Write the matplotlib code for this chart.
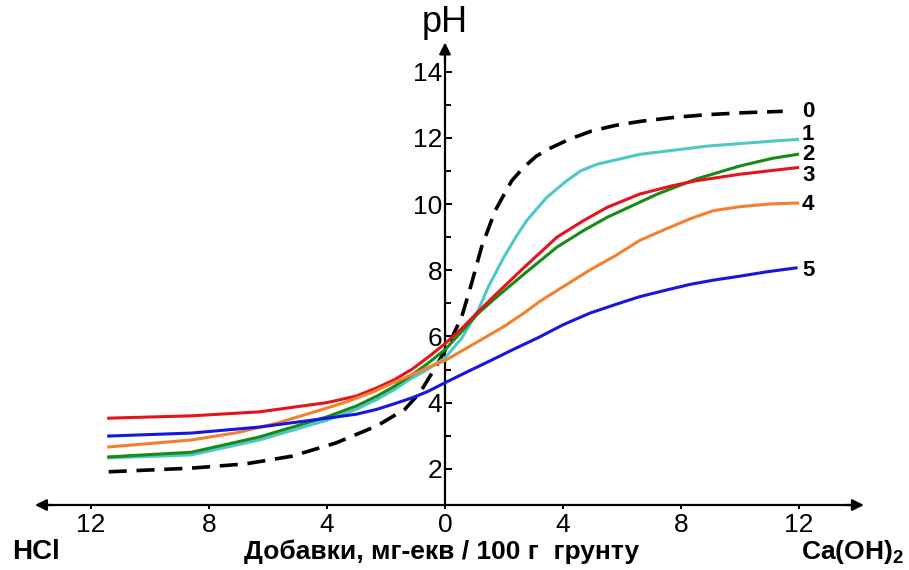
import matplotlib
matplotlib.use("Agg")
import matplotlib.pyplot as plt

plt.rcParams['font.family'] = ['Liberation Sans', 'DejaVu Sans']
plt.rcParams['mathtext.fontset'] = 'custom'
plt.rcParams['mathtext.rm'] = 'Liberation Sans'
plt.rcParams['mathtext.bf'] = 'Liberation Sans:bold'

# ---- data ----
# negative x = HCl additions, positive x = Ca(OH)2 additions (mg-eq / 100 g)
x0 = [-11.4, -8.6, -6.75, -5.2, -3.7, -2.3, -1.36, -0.85, -0.3, 0.2, 0.57, 0.9,
      1.24, 1.7, 2.26, 2.66, 3.1, 3.6, 4.2, 4.95, 5.8, 6.65, 7.8, 8.9, 10.2, 11.45]
y0 = [1.91, 2.02, 2.15, 2.38, 2.78, 3.3, 3.8, 4.3, 5.1, 5.9, 6.6, 7.6,
      8.7, 9.8, 10.7, 11.1, 11.45, 11.7, 11.95, 12.2, 12.38, 12.5, 12.62, 12.7, 12.76, 12.8]

x1 = [-11.4, -8.6, -6.3, -4.0, -3.0, -2.3, -1.7, -1.2, -0.6, 0.0, 0.57, 1.13,
      1.47, 2.0, 2.4, 2.77, 3.45, 4.12, 4.6, 5.15, 6.6, 8.9, 11.1, 11.95]
y1 = [2.33, 2.42, 2.87, 3.47, 3.8, 4.1, 4.4, 4.7, 5.0, 5.35, 5.95, 6.8,
      7.5, 8.4, 9.0, 9.5, 10.2, 10.7, 11.0, 11.2, 11.5, 11.75, 11.9, 11.95]

x2 = [-11.4, -8.6, -6.3, -4.0, -3.0, -2.3, -1.7, -1.1, -0.56, 0.0, 0.57, 1.13,
      1.7, 2.7, 3.8, 4.7, 5.5, 7.2, 8.5, 10.0, 11.1, 11.95]
y2 = [2.36, 2.5, 2.96, 3.57, 3.9, 4.2, 4.5, 4.85, 5.2, 5.6, 6.15, 6.7,
      7.15, 7.9, 8.7, 9.2, 9.6, 10.3, 10.75, 11.15, 11.38, 11.5]

x3 = [-11.4, -8.6, -6.3, -4.0, -3.0, -2.3, -1.7, -1.1, -0.56, 0.0, 0.57, 1.13,
      1.7, 2.7, 3.8, 4.7, 5.5, 6.6, 7.7, 8.5, 10.0, 11.95]
y3 = [3.53, 3.6, 3.72, 4.0, 4.2, 4.45, 4.7, 5.02, 5.38, 5.78, 6.24, 6.75,
      7.25, 8.1, 9.0, 9.5, 9.9, 10.3, 10.55, 10.7, 10.9, 11.1]

x4 = [-11.4, -8.6, -7.0, -5.7, -4.5, -3.45, -2.5, -1.75, -1.1, -0.56, 0.0, 1.13,
      2.0, 2.7, 3.2, 4.0, 4.9, 5.8, 6.6, 7.5, 8.3, 9.1, 10.0, 11.0, 11.95]
y4 = [2.66, 2.87, 3.1, 3.38, 3.7, 3.99, 4.3, 4.6, 4.85, 5.07, 5.27, 5.85,
      6.3, 6.72, 7.05, 7.5, 8.0, 8.45, 8.9, 9.25, 9.55, 9.8, 9.92, 10.0, 10.03]

x5 = [-11.4, -8.6, -6.3, -4.0, -3.0, -2.3, -1.7, -1.1, -0.6, 0.0, 0.8, 1.5,
      2.3, 3.2, 4.0, 4.9, 5.8, 6.6, 7.5, 8.3, 9.1, 10.0, 10.9, 11.9]
y5 = [2.99, 3.08, 3.26, 3.53, 3.65, 3.8, 3.97, 4.15, 4.33, 4.6, 4.95, 5.25,
      5.6, 5.98, 6.35, 6.7, 6.97, 7.2, 7.4, 7.57, 7.7, 7.82, 7.95, 8.07]

curve_labels = ['0', '1', '2', '3', '4', '5']
label_y = [12.8, 12.1, 11.5, 10.86, 9.97, 8.0]
colors = ['black', '#4ec8c6', '#178a17', '#e3141b', '#f28030', '#1616e0']

xticks = [-12, -8, -4, 0, 4, 8, 12]
xtick_labels = ['12', '8', '4', '0', '4', '8', '12']
yticks = [2, 4, 6, 8, 10, 12, 14]
yminor = [3, 5, 7, 9, 11, 13]

# ---- figure ----
fig = plt.figure(figsize=(9.09, 5.70), dpi=100)
ax = fig.add_axes([0, 0, 1, 1])
ax.set_xlim(-15.085, 15.729)
ax.set_ylim(-1.057, 16.163)

xaxis_y = 0.906

series = [(x0, y0), (x1, y1), (x2, y2), (x3, y3), (x4, y4), (x5, y5)]
for i, (xs, ys) in enumerate(series):
    if i == 0:
        ax.plot(xs, ys, color=colors[i], lw=2.6, ls=(0, (5, 2.7)),
                solid_joinstyle='round', zorder=3)
    else:
        ax.plot(xs, ys, color=colors[i], lw=2.2, solid_joinstyle='round',
                zorder=3)

for lab, ly in zip(curve_labels, label_y):
    ax.text(12.1, ly, lab, fontsize=16, fontweight='bold', ha='left',
            va='center')

# axes as arrows through the origin
for s in ['top', 'right']:
    ax.spines[s].set_visible(False)
ax.spines['left'].set_position(('data', 0))
ax.spines['bottom'].set_position(('data', xaxis_y))
ax.spines['left'].set_bounds(xaxis_y, 14.5)
ax.spines['bottom'].set_bounds(-13.5, 13.8)
for s in ['left', 'bottom']:
    ax.spines[s].set_linewidth(1.6)

arrow_kw = dict(arrowstyle='-|>', color='black', lw=1.6, mutation_scale=17,
                shrinkA=0, shrinkB=0)
ax.annotate('', xy=(0, 14.88), xytext=(0, 14.3), arrowprops=arrow_kw)
ax.annotate('', xy=(14.2, xaxis_y), xytext=(13.6, xaxis_y), arrowprops=arrow_kw)
ax.annotate('', xy=(-13.9, xaxis_y), xytext=(-13.3, xaxis_y), arrowprops=arrow_kw)

ax.set_xticks(xticks)
ax.set_xticklabels(xtick_labels)
ax.set_yticks(yticks)
ax.set_yticks(yminor, minor=True)
ax.tick_params(axis='x', direction='out', length=3, width=1.4, labelsize=19,
               pad=3)
ax.tick_params(axis='y', which='major', direction='in', length=5, width=1.4,
               labelsize=19, pad=2)
ax.tick_params(axis='y', which='minor', direction='in', length=4, width=1.4)

ax.text(0, 15.47, 'pH', fontsize=26, ha='center', va='center')
ax.text(-14.68, -0.72, 'HCl', fontsize=20, fontweight='bold', ha='left',
        va='baseline')
ax.text(-0.1, -0.72, 'Добавки, мг-екв / 100 г  грунту', fontsize=19,
        fontweight='bold', ha='center', va='baseline')
ax.text(15.53, -0.72, r'Ca(OH)$_\mathbf{2}$', fontsize=19, fontweight='bold',
        ha='right', va='baseline')

fig.savefig('out.png', dpi=100)
